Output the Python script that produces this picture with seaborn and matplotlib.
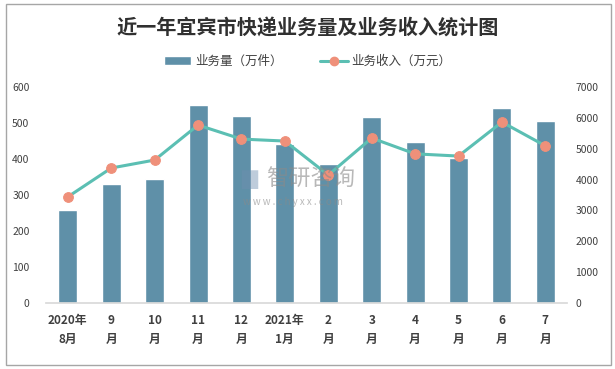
import numpy as np
import pandas as pd
import matplotlib
matplotlib.use("Agg")
import matplotlib.pyplot as plt
from matplotlib.patches import Rectangle, Patch
from matplotlib.lines import Line2D
import seaborn as sns

# ── Data ──────────────────────────────────────────────────────────────────────
months = ["2020年\n8月", "9\n月", "10\n月", "11\n月", "12\n月", "2021年\n1月",
          "2\n月", "3\n月", "4\n月", "5\n月", "6\n月", "7\n月"]
volume = [257, 330, 344, 550, 519, 441, 386, 516, 446, 402, 541, 507]       # 万件
revenue = [3440, 4375, 4634, 5768, 5314, 5250, 4148, 5347, 4835, 4763, 5865, 5095]  # 万元

BAR_COLOR = "#5f90a8"
LINE_COLOR = "#5bbfb3"
MARK_COLOR = "#ef907a"
TEXT_COLOR = "#404040"

sns.set_theme(style="white")
plt.rcParams["font.family"] = ["Noto Sans CJK SC", "DejaVu Sans"]

df = pd.DataFrame({"month": months, "volume": volume, "revenue": revenue})

fig = plt.figure(figsize=(6.15, 3.69), dpi=100)
ax = fig.add_axes([0.075, 0.179, 0.847, 0.585])

sns.barplot(data=df, x="month", y="volume", color=BAR_COLOR, width=0.44,
            saturation=1, ax=ax)
ax.set_ylim(0, 600)
ax.set_yticks(range(0, 601, 100))
ax.set_xlabel("")
ax.set_ylabel("")
ax.set_xlim(-0.5, len(months) - 0.5)

ax2 = ax.twinx()
sns.lineplot(x=np.arange(len(months)), y=df["revenue"], color=LINE_COLOR,
             lw=2.2, marker="o", markersize=7, markerfacecolor=MARK_COLOR,
             markeredgecolor=MARK_COLOR, ax=ax2)
ax2.set_ylim(0, 7000)
ax2.set_yticks(range(0, 7001, 1000))
ax2.set_ylabel("")

for a in (ax, ax2):
    for s in a.spines.values():
        s.set_visible(False)
    a.tick_params(axis="y", length=0, labelsize=7.5, labelcolor=TEXT_COLOR, pad=12)
ax.spines["bottom"].set_visible(True)
ax.spines["bottom"].set_color("#d9d9d9")
ax.tick_params(axis="x", length=0, labelsize=8.5, labelcolor=TEXT_COLOR, pad=8)
for lbl in ax.get_xticklabels():
    lbl.set_fontweight("bold")
    lbl.set_linespacing(1.6)
ax2.tick_params(axis="y", pad=6)

# title and legend
fig.text(0.5, 0.925, "近一年宜宾市快递业务量及业务收入统计图", ha="center", va="center",
         fontsize=14.5, fontweight="bold", color="#303030")
handles = [Patch(facecolor=BAR_COLOR, label="业务量（万件）"),
           Line2D([0], [0], color=LINE_COLOR, lw=2.2, marker="o", markersize=6,
                  markerfacecolor=MARK_COLOR, markeredgecolor=MARK_COLOR,
                  label="业务收入（万元）")]
fig.legend(handles=handles, loc="center", bbox_to_anchor=(0.5, 0.833), ncol=2,
           frameon=False, fontsize=9, handlelength=2.2, columnspacing=3,
           handletextpad=0.3, labelcolor=TEXT_COLOR)

# watermark
fig.text(0.405, 0.515, "▇", ha="center", va="center", fontsize=15,
         color="#6f8fb0", alpha=0.45, family="DejaVu Sans")
fig.text(0.505, 0.515, "智研咨询", ha="center", va="center", fontsize=16,
         color="#8a8a8a", alpha=0.6)
fig.text(0.477, 0.452, "w w w . c h y x x . c o m", ha="center", va="center",
         fontsize=7, color="#8a8a8a", alpha=0.6)

# outer frame
fig.patches.append(Rectangle((6 / 615, 4 / 369), 605 / 615, 361 / 369,
                             transform=fig.transFigure, fill=False,
                             edgecolor="#a6a6a6", lw=1))

fig.savefig("out.png", dpi=100)
